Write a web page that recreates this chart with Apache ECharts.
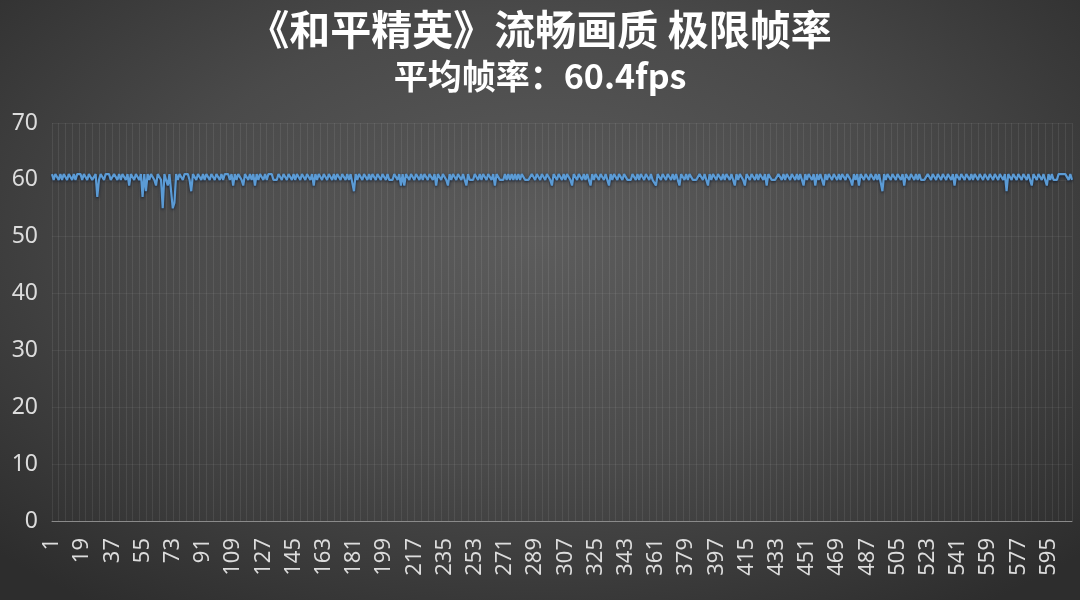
<!DOCTYPE html>
<html>
<head>
<meta charset="utf-8">
<script src="https://cdn.jsdelivr.net/npm/echarts@6/dist/echarts.min.js"></script>
<style>
html,body{margin:0;padding:0;width:1080px;height:600px;overflow:hidden;}
body{background:radial-gradient(ellipse 70% 75% at 50% 40%, #5c5c5c 0%, #4a4a4a 50%, #2d2d2d 100%);}
#chart{width:1080px;height:600px;}
</style>
</head>
<body>
<div id="chart"></div>
<script>
var titleText = '《和平精英》流畅画质 极限帧率';
var subtitleText = '平均帧率：60.4fps';
var yTicks = [0, 10, 20, 30, 40, 50, 60, 70];
var fps = [
61,60,61,61,60,61,60,61,61,60, 61,61,60,61,60,61,61,61,60,61, 61,60,61,61,60,60,61,57,60,61,
61,60,61,61,61,60,60,61,61,60, 61,60,61,61,60,61,59,61,61,60, 61,61,60,61,57,61,58,61,60,61,
61,60,59,61,61,60,55,61,60,59, 61,61,55,56,61,60,61,61,60,61, 61,61,60,58,61,61,60,61,61,60,
61,60,61,61,60,61,61,60,61,61, 60,61,60,61,61,61,60,61,59,61, 60,61,61,60,59,61,61,60,61,60,
61,59,61,60,61,61,60,61,60,61, 61,61,60,60,60,61,61,60,61,61, 60,61,61,60,61,60,61,61,60,61,
61,60,61,61,60,61,59,61,60,61, 61,60,61,61,60,61,61,60,61,60, 61,61,60,61,61,60,61,60,61,61,
58,61,60,61,61,60,61,61,60,61, 60,61,61,60,61,61,60,61,61,60, 61,60,60,60,61,61,60,61,59,61,
59,61,61,60,61,61,60,61,61,60, 61,60,61,61,60,61,61,60,61,59, 61,61,60,61,61,60,59,61,60,61,
61,60,61,61,60,61,61,59,61,60, 60,60,61,61,60,61,60,61,61,60, 61,61,60,61,59,61,61,60,60,60,
61,60,61,60,61,60,61,60,61,60, 61,61,60,60,60,60,61,61,60,61, 61,60,61,61,60,61,61,60,59,61,
61,60,61,61,60,61,60,61,61,60, 59,61,61,60,61,61,60,61,60,61, 61,59,61,60,61,61,60,61,61,60,
61,61,59,61,60,61,61,60,61,61, 60,61,61,60,60,60,61,61,60,61, 60,61,61,60,61,61,60,61,60,60,
59,61,61,60,61,61,60,61,61,60, 61,60,61,61,59,61,61,60,61,60, 61,61,60,60,60,60,61,61,60,61,
61,59,61,60,61,61,60,61,61,60, 61,60,61,61,60,61,61,59,61,60, 61,61,60,59,61,61,60,61,61,60,
61,60,61,61,60,61,59,61,61,60, 60,60,60,61,61,60,61,60,61,61, 60,61,61,60,61,60,61,61,59,61,
60,61,61,60,61,59,61,60,61,61, 59,61,60,61,61,60,61,61,60,61, 60,61,61,60,61,61,60,59,61,60,
61,59,61,61,60,61,61,60,61,61, 60,61,60,61,61,58,61,60,61,61, 60,61,61,60,61,61,60,61,59,61,
61,60,61,61,60,61,60,61,60,60, 60,60,61,61,60,61,61,60,61,61, 60,61,61,60,61,61,60,61,59,61,
61,60,61,61,60,61,61,60,61,60, 61,61,60,61,61,60,61,61,60,61, 61,60,61,61,60,61,61,60,61,58,
61,61,60,61,61,60,61,61,60,61, 61,60,61,61,59,61,61,60,61,61, 60,61,61,59,61,60,61,60,60,60,
61,61,61,61,61,61,60,61,60
];
var frames = fps.map(function (v, i) { return String(i + 1); });

var chart = echarts.init(document.getElementById('chart'), null, {renderer: 'canvas'});
chart.setOption({
  backgroundColor: 'transparent',
  animation: false,
  title: [
    {text: titleText, left: 'center', top: 4,
     textStyle: {color: '#ffffff', fontSize: 41, fontWeight: 'bold', fontFamily: '"Noto Sans CJK SC", sans-serif'}},
    {text: subtitleText, left: 'center', top: 54,
     textStyle: {color: '#ffffff', fontSize: 34, fontWeight: 'bold', fontFamily: '"Noto Sans CJK SC", sans-serif'}}
  ],
  grid: {left: 52, right: 8, top: 123, bottom: 79, containLabel: false},
  xAxis: {
    type: 'category',
    data: frames,
    boundaryGap: false,
    axisLine: {show: true, lineStyle: {color: '#8a8a8a', width: 1}},
    axisTick: {show: false},
    axisLabel: {interval: 17, rotate: 90, color: '#dcdcdc', fontSize: 22, margin: 17, fontFamily: '"Noto Sans", sans-serif'},
    splitLine: {show: true, interval: 3, lineStyle: {color: 'rgba(255,255,255,0.08)', width: 1}}
  },
  yAxis: {
    type: 'value',
    min: yTicks[0],
    max: yTicks[yTicks.length - 1],
    interval: 10,
    axisLine: {show: false},
    axisTick: {show: false},
    axisLabel: {color: '#dcdcdc', fontSize: 23, margin: 14, fontFamily: '"Noto Sans", sans-serif'},
    splitLine: {show: true, lineStyle: {color: 'rgba(255,255,255,0.06)', width: 1}}
  },
  series: [{
    type: 'line',
    data: fps,
    showSymbol: false,
    lineStyle: {color: '#5b9bd5', width: 2.2, shadowColor: 'rgba(10,20,40,0.85)', shadowBlur: 3, shadowOffsetY: 1},
    itemStyle: {color: '#5b9bd5'}
  }]
});
</script>
</body>
</html>
